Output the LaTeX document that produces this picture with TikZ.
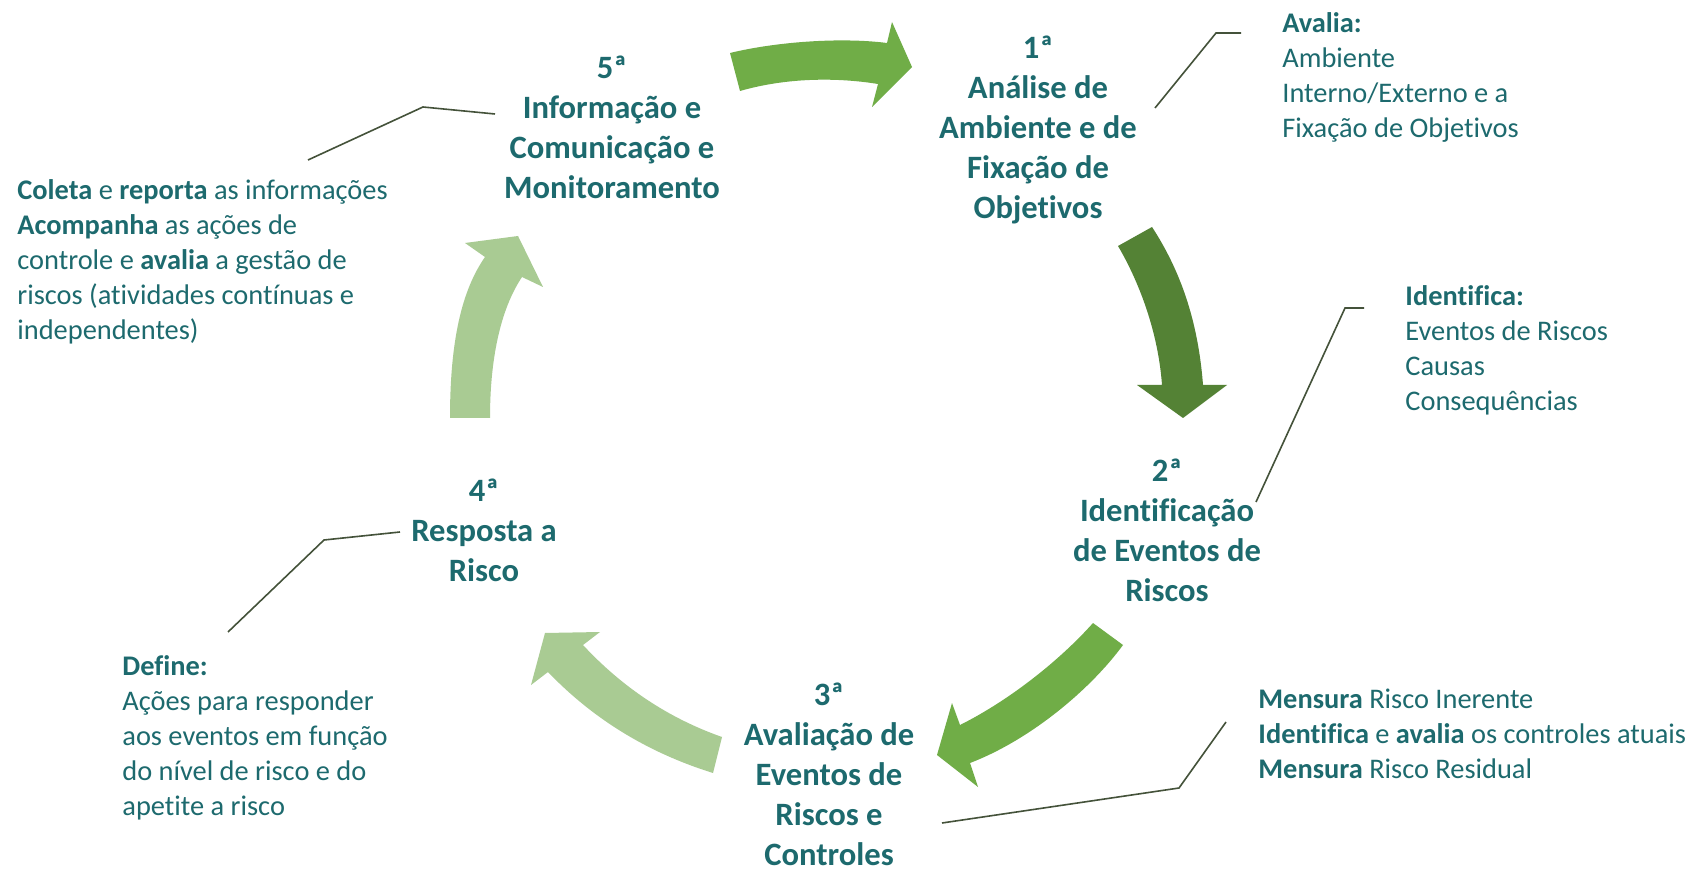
\documentclass[tikz,border=0pt]{standalone}
\usepackage{fontspec}
\setmainfont{Carlito}[Ligatures=NoCommon]
\definecolor{txt}{HTML}{1D6A6E}
\definecolor{gA}{HTML}{70AD47}
\definecolor{gD}{HTML}{548235}
\definecolor{gL}{HTML}{A9CB93}
\definecolor{ln}{HTML}{44523A}
\begin{document}
\begin{tikzpicture}[x=0.5pt,y=-0.5pt,
  head/.style={font=\fontsize{16.3}{20}\selectfont\bfseries, text=txt, align=center, inner sep=0pt},
  desc/.style={font=\fontsize{14.2}{17.5}\selectfont, text=txt, align=left, inner sep=0pt, anchor=west},
  callout/.style={draw=ln, line width=0.8pt},
  arrowA/.style={fill=gA},
  arrowD/.style={fill=gD},
  arrowL/.style={fill=gL}]
\useasboundingbox (0,0) rectangle (1695,870);
\fill[white] (0,0) rectangle (1695,870);

% curved block arrows
\fill[arrowA] (730,53) .. controls (775,42) and (840,37) .. (887,43) -- (892,22) -- (912,67) -- (872,107) -- (878,84) .. controls (835,77) and (785,78) .. (740,91) -- cycle;
\fill[arrowD] (1118,246) .. controls (1138,280) and (1158,330) .. (1162,385) -- (1137,385) -- (1183,418) -- (1227,385) -- (1203,385) .. controls (1198,320) and (1180,270) .. (1152,227) -- cycle;
\fill[arrowA] (1093,623) .. controls (1060,660) and (1010,700) .. (960,725) -- (952,703) -- (937,755) -- (978,787) -- (970,763) .. controls (1030,740) and (1090,690) .. (1123,645) -- cycle;
\fill[arrowL] (722,737) .. controls (668,718) and (622,687) .. (583,645) -- (600,632) -- (545,633) -- (531,685) -- (548,672) .. controls (594,720) and (649,753) .. (713,773) -- cycle;
\fill[arrowL] (450,418) .. controls (450,340) and (462,290) .. (485,257) -- (465,243) -- (518,236) -- (543,287) -- (522,277) .. controls (500,310) and (490,360) .. (490,418) -- cycle;

% step headings
\node[head] (n1) at (1038,130) {1ª\\Análise de\\Ambiente e de\\Fixação de\\Objetivos};
\node[head] (n2) at (1167,530) {2ª\\Identificação\\de Eventos de\\Riscos};
\node[head] (n3) at (829,774) {3ª\\Avaliação de\\Eventos de\\Riscos e\\Controles};
\node[head] (n4) at (484,530) {4ª\\Resposta a\\Risco};
\node[head] (n5) at (612,127) {5ª\\Informação e\\Comunicação e\\Monitoramento};

% descriptions
\node[desc] (d1) at (1282,77) {\textbf{Avalia:}\\Ambiente\\Interno/Externo e a\\Fixação de Objetivos};
\node[desc] (d2) at (1405,350) {\textbf{Identifica:}\\Eventos de Riscos\\Causas\\Consequências};
\node[desc] (d3) at (1258,734) {\textbf{Mensura} Risco Inerente\\\textbf{Identifica} e \textbf{avalia} os controles atuais\\\textbf{Mensura} Risco Residual};
\node[desc] (d4) at (122,738) {\textbf{Define:}\\Ações para responder\\aos eventos em função\\do nível de risco e do\\apetite a risco};
\node[desc] (d5) at (17,262) {\textbf{Coleta} e \textbf{reporta} as informações\\\textbf{Acompanha} as ações de\\controle e \textbf{avalia} a gestão de\\riscos (atividades contínuas e\\independentes)};

% callout lines
\coordinate (c1a) at (1155,108); \coordinate (c1b) at (1216,33); \coordinate (c1c) at (1241,33);
\draw[callout] (c1a) -- (c1b) -- (c1c);
\coordinate (c2a) at (1256,502); \coordinate (c2b) at (1345,308); \coordinate (c2c) at (1364,308);
\draw[callout] (c2a) -- (c2b) -- (c2c);
\coordinate (c3a) at (942,823); \coordinate (c3b) at (1179,788); \coordinate (c3c) at (1226,722);
\draw[callout] (c3a) -- (c3b) -- (c3c);
\coordinate (c4a) at (400,532); \coordinate (c4b) at (324,540); \coordinate (c4c) at (228,632);
\draw[callout] (c4a) -- (c4b) -- (c4c);
\coordinate (c5a) at (495,114); \coordinate (c5b) at (423,107); \coordinate (c5c) at (308,160);
\draw[callout] (c5a) -- (c5b) -- (c5c);
\end{tikzpicture}
\end{document}
